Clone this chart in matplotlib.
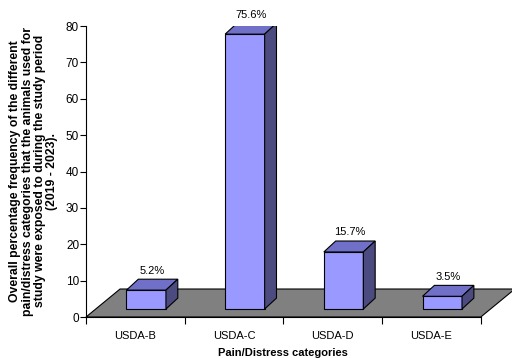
import matplotlib.pyplot as plt
from matplotlib.patches import Polygon

plt.rcParams["font.family"] = ["Liberation Sans", "DejaVu Sans"]

categories = ["USDA-B", "USDA-C", "USDA-D", "USDA-E"]
percent = [5.2, 75.6, 15.7, 3.5]
labels = ["5.2%", "75.6%", "15.7%", "3.5%"]

# fake 3D geometry (data units)
base = 2.2        # front-face bottom sits a bit above the floor front edge
shift = 0.11      # bar front offset from category centre
width = 0.40
dx, dy = 0.12, 3.0          # bar depth
fdx, fdy = 0.345, 7.7       # floor depth

fig = plt.figure(figsize=(5.12, 3.58), dpi=100)
ax = fig.add_axes([0.168, 0.1145, 0.771, 0.8125])
ax.set_xlim(-0.5, 3.5)
ax.set_ylim(0, 80)

n = len(categories)
floor = Polygon([(-0.5, 0), (n - 0.5, 0), (n - 0.5 + fdx, fdy), (-0.5 + fdx, fdy)],
                closed=True, facecolor="#808080", edgecolor="black", lw=0.8,
                clip_on=False, zorder=1)
ax.add_patch(floor)

xs = [i + shift for i in range(n)]
ax.bar(xs, percent, width=width, bottom=base, color="#9999FF",
       edgecolor="black", linewidth=0.8, zorder=3)

for x, v, lab in zip(xs, percent, labels):
    l, r = x - width / 2, x + width / 2
    t = base + v
    top = Polygon([(l, t), (r, t), (r + dx, t + dy), (l + dx, t + dy)],
                  closed=True, facecolor="#7070C8", edgecolor="black", lw=0.8, zorder=3)
    side = Polygon([(r, base), (r + dx, base + dy), (r + dx, t + dy), (r, t)],
                   closed=True, facecolor="#4B4B80", edgecolor="black", lw=0.8, zorder=3)
    ax.add_patch(top)
    ax.add_patch(side)
    ax.text(x + dx / 2, t + dy + 1.0, lab, ha="center", va="bottom", fontsize=8)

for s in ["top", "right"]:
    ax.spines[s].set_visible(False)
ax.spines["left"].set_linewidth(0.8)
ax.spines["bottom"].set_linewidth(0.8)

ax.set_yticks(range(0, 81, 10))
ax.tick_params(axis="y", labelsize=8.5, length=4, width=0.8, pad=1)
ax.set_xticks([i - 0.5 for i in range(n + 1)])
ax.set_xticklabels([])
ax.tick_params(axis="x", which="major", length=5, width=0.8)
ax.set_xticks(range(n), minor=True)
ax.set_xticklabels(categories, minor=True)
ax.tick_params(axis="x", which="minor", length=0, labelsize=8, pad=10)

ax.set_xlabel("Pain/Distress categories", fontsize=8, fontweight="bold", labelpad=5)
fig.text(0.066, 0.522,
         "Overall percentage frequency of the different\n"
         "pain/distress categories that the animals used for\n"
         "study were exposed to during the study period\n"
         "(2019 - 2023).",
         rotation=90, ha="center", va="center", fontsize=8.8, fontweight="bold",
         multialignment="center", linespacing=1.03)

fig.savefig("out.png", dpi=100)
